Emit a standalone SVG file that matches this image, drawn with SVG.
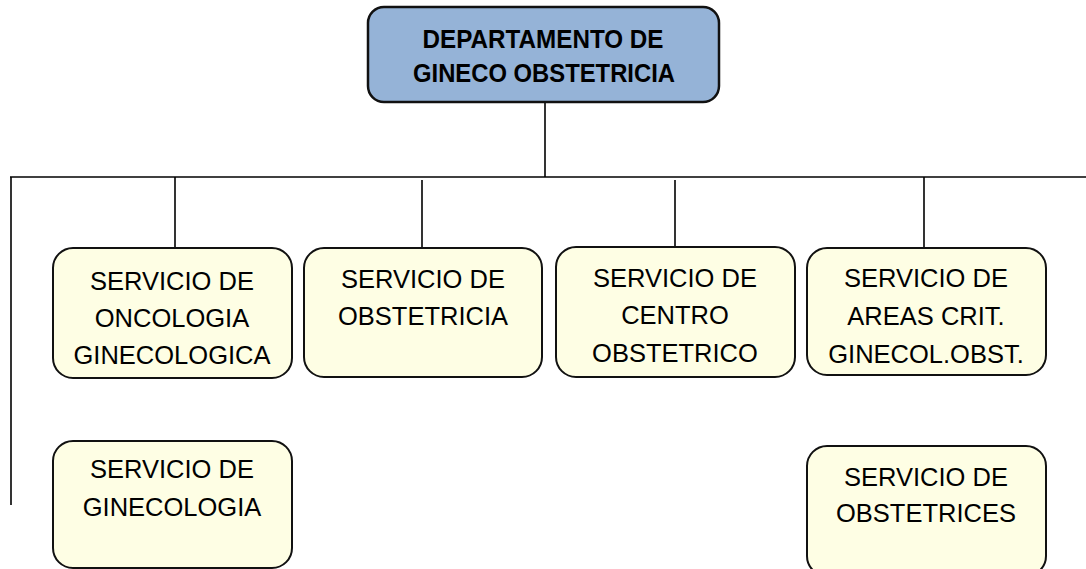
<svg xmlns="http://www.w3.org/2000/svg" width="1086" height="569" viewBox="0 0 1086 569">
<style>
.box{fill:#fefee4;stroke:#111;stroke-width:2}
.top{fill:#95b3d7;stroke:#111;stroke-width:2.5}
.t{font-family:"Liberation Sans",Arial,sans-serif;font-size:25.5px;fill:#000;text-anchor:middle}
.b{font-family:"Liberation Sans",Arial,sans-serif;font-size:26px;font-weight:bold;fill:#000;text-anchor:middle}
.c{stroke:#000;stroke-width:1.6;fill:none}
</style>
<rect width="1086" height="569" fill="#fff"/>
<g id="connectors">
<line class="c" x1="545" y1="102" x2="545" y2="177"/>
<line class="c" x1="10" y1="177" x2="1086" y2="177"/>
<line class="c" x1="11" y1="177" x2="11" y2="505"/>
<line class="c" x1="175" y1="177" x2="175" y2="248"/>
<line class="c" x1="422" y1="180" x2="422" y2="248"/>
<line class="c" x1="675" y1="180" x2="675" y2="247"/>
<line class="c" x1="924" y1="177" x2="924" y2="248"/>
</g>
<g id="n-dept">
<rect class="top" x="368" y="7" width="351" height="95" rx="16"/>
<text class="b" x="543" y="48" textLength="241" lengthAdjust="spacingAndGlyphs">DEPARTAMENTO DE</text>
<text class="b" x="544" y="82" textLength="262" lengthAdjust="spacingAndGlyphs">GINECO OBSTETRICIA</text>
</g>
<g id="n-onco">
<rect class="box" x="53" y="248" width="239" height="130" rx="20"/>
<text class="t" x="172" y="290">SERVICIO DE</text>
<text class="t" x="172" y="327">ONCOLOGIA</text>
<text class="t" x="172" y="364">GINECOLOGICA</text>
</g>
<g id="n-obst">
<rect class="box" x="304" y="248" width="238" height="129" rx="20"/>
<text class="t" x="423" y="288">SERVICIO DE</text>
<text class="t" x="423" y="325">OBSTETRICIA</text>
</g>
<g id="n-centro">
<rect class="box" x="556" y="247" width="239" height="130" rx="20"/>
<text class="t" x="675" y="287">SERVICIO DE</text>
<text class="t" x="675" y="324">CENTRO</text>
<text class="t" x="675" y="362">OBSTETRICO</text>
</g>
<g id="n-areas">
<rect class="box" x="807" y="248" width="239" height="127" rx="20"/>
<text class="t" x="926" y="287">SERVICIO DE</text>
<text class="t" x="926" y="325">AREAS CRIT.</text>
<text class="t" x="926" y="363">GINECOL.OBST.</text>
</g>
<g id="n-gine">
<rect class="box" x="53" y="441" width="239" height="127" rx="20"/>
<text class="t" x="172" y="478">SERVICIO DE</text>
<text class="t" x="172" y="516">GINECOLOGIA</text>
</g>
<g id="n-obstetrices">
<rect class="box" x="807" y="446" width="239" height="130" rx="20"/>
<text class="t" x="926" y="486">SERVICIO DE</text>
<text class="t" x="926" y="522">OBSTETRICES</text>
</g>
</svg>
